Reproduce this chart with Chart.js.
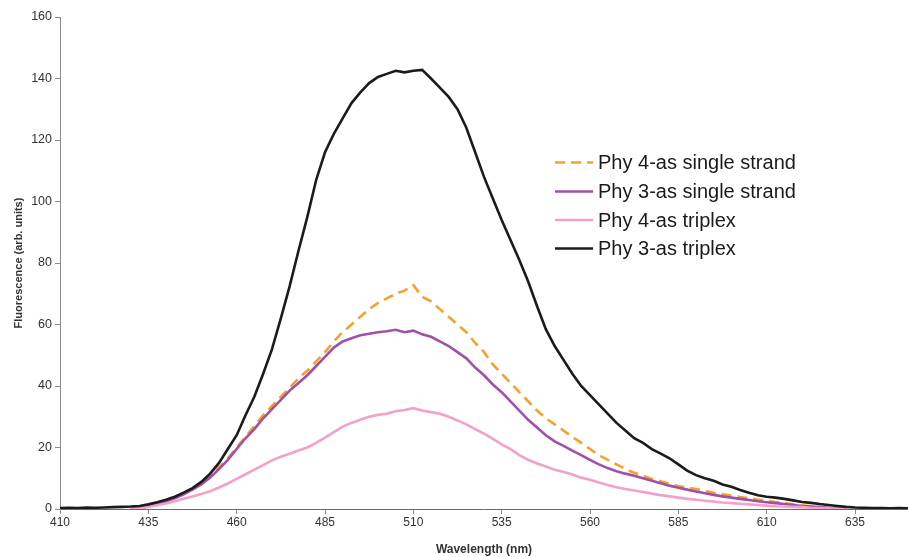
<!DOCTYPE html>
<html>
<head>
<meta charset="utf-8">
<script src="https://cdn.jsdelivr.net/npm/chart.js@4.4.1/dist/chart.umd.min.js"></script>
<style>
  html, body { margin: 0; padding: 0; background: #ffffff; }
  #wrap { width: 908px; height: 557px; position: relative; }
</style>
</head>
<body>
<div id="wrap"><canvas id="c" width="908" height="557"></canvas></div>
<script>
const wavelengths = [410,412.5,415,417.5,420,422.5,425,427.5,430,432.5,435,437.5,440,442.5,445,447.5,450,452.5,455,457.5,460,462.5,465,467.5,470,472.5,475,477.5,480,482.5,485,487.5,490,492.5,495,497.5,500,502.5,505,507.5,510,512.5,515,517.5,520,522.5,525,527.5,530,532.5,535,537.5,540,542.5,545,547.5,550,552.5,555,557.5,560,562.5,565,567.5,570,572.5,575,577.5,580,582.5,585,587.5,590,592.5,595,597.5,600,602.5,605,607.5,610,612.5,615,617.5,620,622.5,625,627.5,630,632.5,635,637.5,640,642.5,645,647.5,650];

const phy4Single = [null,null,null,null,null,null,null,null,
  0,0.3,0.8,1.5,2.5,3.6,5,6.5,
  8.3,10.5,13.5,16.5,20,23.5,27,30.5,
  33.5,36.5,39.5,42.5,45,48,51,54.5,
  57.5,60,62.5,65,67,68.5,70,71,
  72.8,69,67.5,65,62.5,60,57.5,54,
  51,47,44,41,38,35,32,29.5,
  27.5,25.5,23.5,21.5,19.5,17.5,16,14.5,
  13,11.8,10.8,9.8,9,8.2,7.5,7,
  6.5,5.9,5.3,4.8,4.4,3.9,3.5,3.1,
  2.7,2.3,1.9,1.5,1.2,0.9,0.6,0.3,
  0.1,null,null,null,null,null,null,null,
  null];

const phy3Single = [null,null,null,null,null,null,null,null,
  0,0.3,0.8,1.5,2.5,3.5,4.8,6.3,
  8,10.2,13,16,19.5,23,26,29.5,
  32.5,35.5,38.5,41,43.5,46.5,49.5,52.5,
  54.5,55.5,56.5,57,57.5,57.8,58.3,57.5,
  58,56.8,56,54.5,53,51,49,46,
  43.5,40.5,38,35,32,29,26.5,24,
  22,20.5,19,17.5,16,14.5,13.3,12.3,
  11.5,10.8,10,9.2,8.4,7.6,6.9,6.3,
  5.7,5.1,4.6,4.1,3.7,3.3,2.9,2.5,
  2.2,1.9,1.6,1.3,1,0.8,0.6,0.4,
  0.2,0.1,null,null,null,null,null,null,
  null];

const phy4Triplex = [null,null,null,null,null,null,null,null,
  0,0.3,0.7,1.2,1.8,2.5,3.3,4.1,
  4.9,5.8,7,8.3,9.8,11.3,12.8,14.3,
  15.8,17,18,19,20,21.5,23.2,25,
  26.8,28,29,30,30.6,31,31.8,32.2,
  32.8,32,31.5,31,30,28.8,27.5,26,
  24.5,22.8,21,19.5,17.5,16,14.8,13.8,
  12.8,12,11.2,10.2,9.5,8.6,7.8,7.1,
  6.5,6,5.5,5,4.5,4.1,3.7,3.3,
  3,2.7,2.4,2.1,1.9,1.7,1.5,1.3,
  1.1,0.9,0.8,0.7,0.6,0.4,0.3,0.2,
  0.1,0,null,null,null,null,null,null,
  null];

const phy3Triplex = [0.3,0.4,0.3,0.5,0.4,0.5,0.6,0.7,
  0.8,1.0,1.5,2.2,3.0,4.0,5.3,6.8,
  8.8,11.5,15,19.5,24,30.5,36.5,44,
  52,62,72.5,84,95,107,116,122,
  127,132,135.5,138.5,140.5,141.5,142.5,142,
  142.5,142.8,140,137,134,130,124,116,
  108,101,94,87.5,81,74,66,58.5,
  53,48.5,44,40,37,34,31,28,
  25.5,23,21.5,19.5,18,16.5,14.5,12.5,
  11,10,9.2,8,7.2,6.2,5.3,4.5,
  4,3.7,3.3,2.8,2.3,2,1.6,1.3,
  1,0.7,0.5,0.4,0.3,0.3,0.2,0.3,
  0.2];

const seriesLabels = ['Phy 4-as single strand','Phy 3-as single strand','Phy 4-as triplex','Phy 3-as triplex'];
const xTickValues = [410,435,460,485,510,535,560,585,610,635];
const yTickValues = [0,20,40,60,80,100,120,140,160];

const toXY = arr => wavelengths.map((w, i) => ({ x: w, y: arr[i] }));

const colors = ['#F4A22D', '#A24FA8', '#F2A1C9', '#1b1b1b'];
const dashes = [[10, 6], [], [], []];
const seriesData = [phy4Single, phy3Single, phy4Triplex, phy3Triplex];

const datasets = seriesData.map((d, i) => ({
  label: seriesLabels[i],
  data: toXY(d),
  borderColor: colors[i],
  backgroundColor: colors[i],
  borderWidth: 2.6,
  borderDash: dashes[i],
  pointRadius: 0,
  tension: 0,
  fill: false,
  spanGaps: false,
  order: [3, 2, 1, 0][i]
}));

const legendPlugin = {
  id: 'customLegend',
  afterDraw(chart) {
    const ctx = chart.ctx;
    const rowsY = [162.5, 191.5, 220, 248.5];
    ctx.save();
    chart.data.datasets.forEach((ds, i) => {
      const y = rowsY[i];
      ctx.beginPath();
      ctx.strokeStyle = ds.borderColor;
      ctx.lineWidth = 2.6;
      ctx.setLineDash(ds.borderDash || []);
      ctx.moveTo(555, y);
      ctx.lineTo(593, y);
      ctx.stroke();
      ctx.setLineDash([]);
      ctx.fillStyle = '#1a1a1a';
      ctx.font = '20px "Liberation Sans", Arial, sans-serif';
      ctx.textBaseline = 'middle';
      ctx.textAlign = 'left';
      ctx.fillText(ds.label, 598, y + 1);
    });
    ctx.restore();
  }
};

new Chart(document.getElementById('c'), {
  type: 'line',
  data: { datasets },
  options: {
    responsive: false,
    animation: false,
    devicePixelRatio: 1,
    layout: { padding: { top: 17, right: 0, left: 0, bottom: 0 } },
    plugins: {
      legend: { display: false },
      tooltip: { enabled: false }
    },
    scales: {
      x: {
        type: 'linear',
        min: 410,
        max: 650,
        afterBuildTicks: s => { s.ticks = xTickValues.map(v => ({ value: v })); },
        afterFit: s => { s.height = 48; },
        grid: { drawOnChartArea: false, drawTicks: true, tickLength: 5, color: '#8a8a8a' },
        border: { color: '#6a6a6a', width: 1 },
        ticks: {
          color: '#333333',
          font: { family: '"Liberation Sans", Arial, sans-serif', size: 12 },
          padding: 1,
          maxRotation: 0,
          autoSkip: false
        },
        title: {
          display: true,
          text: 'Wavelength (nm)',
          color: '#333333',
          font: { family: '"Liberation Sans", Arial, sans-serif', size: 12, weight: 'bold' },
          padding: { top: 2, bottom: 0 }
        }
      },
      y: {
        type: 'linear',
        min: 0,
        max: 160,
        afterBuildTicks: s => { s.ticks = yTickValues.map(v => ({ value: v })); },
        afterFit: s => { s.width = 60; },
        grid: { drawOnChartArea: false, drawTicks: true, tickLength: 5, color: '#8a8a8a' },
        border: { color: '#8a8a8a', width: 1 },
        ticks: {
          color: '#333333',
          font: { family: '"Liberation Sans", Arial, sans-serif', size: 12.5 },
          padding: 3
        },
        title: {
          display: true,
          text: 'Fluorescence (arb. units)',
          color: '#333333',
          font: { family: '"Liberation Sans", Arial, sans-serif', size: 11, weight: 'bold' },
          padding: { top: 12, bottom: 0 }
        }
      }
    }
  },
  plugins: [legendPlugin]
});
</script>
</body>
</html>
